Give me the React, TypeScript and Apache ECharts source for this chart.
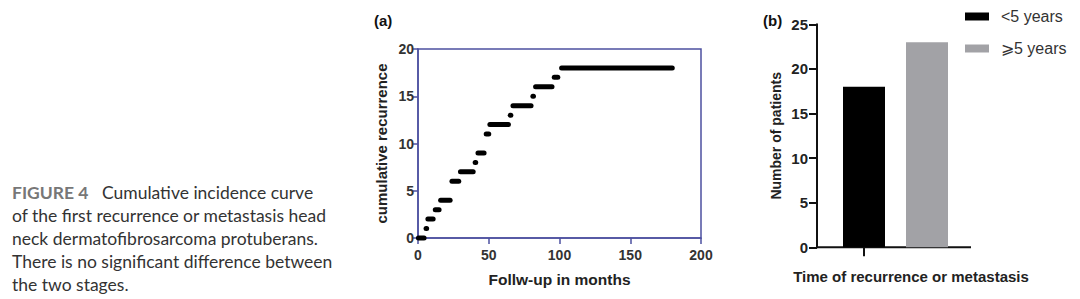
import React, { useEffect, useRef } from "react";
import * as echarts from "echarts";

// (a) cumulative recurrence: each step is a horizontal run of dots
const stepStarts = [0.3, 5.7, 7, 12.2, 16, 24, 30, 40.4, 42.4, 48.2, 50.8, 65.2, 67.1, 81.2, 83.1, 96.3, 101.5];
const stepEnds = [4.3, 6.1, 10.7, 14.9, 22.7, 28.8, 39, 40.8, 46.7, 50, 63.9, 65.6, 79.9, 81.6, 94.7, 98.8, 179.7];
const stepCounts = [0, 1, 2, 3, 4, 6, 7, 8, 9, 11, 12, 13, 14, 15, 16, 17, 18];

// (b) number of patients
const groups = ["<5 years", "⩾5 years"];
const patients = [18, 23];

const captionLines = [
  "Cumulative incidence curve",
  "of the first recurrence or metastasis head",
  "neck dermatofibrosarcoma protuberans.",
  "There is no significant difference between",
  "the two stages.",
];

const FONT = "Liberation Sans";
const BLUE = "#4c50a0";

export default function App() {
  const ref = useRef<HTMLDivElement>(null);
  useEffect(() => {
    if (!ref.current) return;
    const chart = echarts.init(ref.current, undefined, { renderer: "svg" });
    const stepData = stepStarts.map((s, i) => [s, stepEnds[i], stepCounts[i]]);
    chart.setOption({
      animation: false,
      textStyle: { fontFamily: FONT },
      grid: [
        { left: 418, width: 283, top: 49, height: 189, show: true, borderColor: BLUE, borderWidth: 1.5, backgroundColor: "transparent" },
        { left: 832.5, width: 126, top: 24.3, height: 223 },
      ],
      legend: {
        data: groups,
        orient: "vertical",
        left: 965,
        top: 8.5,
        padding: 0,
        itemWidth: 24,
        itemHeight: 8,
        itemGap: 16,
        icon: "rect",
        selectedMode: false,
        textStyle: { fontFamily: FONT, fontSize: 16, color: "#333", padding: [0, 0, 0, 7] },
      },
      xAxis: [
        {
          gridIndex: 0,
          type: "value",
          min: 0,
          max: 200,
          interval: 50,
          axisLine: { show: true, lineStyle: { color: BLUE, width: 1.5 } },
          axisTick: { show: true, length: 6, lineStyle: { color: BLUE, width: 1.5 } },
          axisLabel: { fontFamily: FONT, fontWeight: "bold", fontSize: 14, color: "#333", margin: 10 },
          splitLine: { show: false },
          name: "Follw-up in months",
          nameLocation: "middle",
          nameGap: 33,
          nameTextStyle: { fontFamily: FONT, fontWeight: "bold", fontSize: 15.5, color: "#222" },
        },
        {
          gridIndex: 1,
          type: "category",
          data: groups,
          axisLine: { show: false },
          axisTick: { show: true, alignWithLabel: true, length: 9, lineStyle: { color: "#111", width: 2 } },
          axisLabel: { show: false },
        },
      ],
      yAxis: [
        {
          gridIndex: 0,
          type: "value",
          min: 0,
          max: 20,
          interval: 5,
          axisLine: { show: true, lineStyle: { color: BLUE, width: 1.5 } },
          axisTick: { show: true, length: 5, lineStyle: { color: BLUE, width: 1.5 } },
          axisLabel: { fontFamily: FONT, fontWeight: "bold", fontSize: 14, color: "#333", margin: 4 },
          splitLine: { show: false },
          name: "cumulative recurrence",
          nameLocation: "middle",
          nameGap: 29,
          nameTextStyle: { fontFamily: FONT, fontWeight: "bold", fontSize: 15, color: "#222" },
        },
        {
          gridIndex: 1,
          type: "value",
          min: 0,
          max: 25,
          interval: 5,
          offset: 15.5,
          axisLine: { show: true, lineStyle: { color: "#111", width: 2 } },
          axisTick: { show: true, length: 8, lineStyle: { color: "#111", width: 2 } },
          axisLabel: { fontFamily: FONT, fontWeight: "bold", fontSize: 15, color: "#222", margin: 9 },
          splitLine: { show: false },
          name: "Number of patients",
          nameLocation: "middle",
          nameGap: 34,
          nameTextStyle: { fontFamily: FONT, fontWeight: "bold", fontSize: 14, color: "#222" },
        },
      ],
      series: [
        {
          type: "custom",
          xAxisIndex: 0,
          yAxisIndex: 0,
          data: stepData,
          encode: { x: [0, 1], y: 2 },
          renderItem: (params: any, api: any) => {
            const p1 = api.coord([api.value(0), api.value(2)]);
            const p2 = api.coord([api.value(1), api.value(2)]);
            return {
              type: "line",
              shape: { x1: p1[0], y1: p1[1], x2: p2[0], y2: p2[1] },
              style: { stroke: "#000", lineWidth: 5, lineCap: "round" },
            };
          },
        },
        {
          name: groups[0],
          type: "bar",
          xAxisIndex: 1,
          yAxisIndex: 1,
          data: [patients[0], "-"],
          barWidth: 42,
          barGap: "-100%",
          itemStyle: { color: "#000" },
        },
        {
          name: groups[1],
          type: "bar",
          xAxisIndex: 1,
          yAxisIndex: 1,
          data: ["-", patients[1]],
          barWidth: 42,
          barGap: "-100%",
          itemStyle: { color: "#a2a2a6" },
        },
      ],
      graphic: [
        { type: "line", shape: { x1: 817, y1: 247.3, x2: 971, y2: 247.3 }, style: { stroke: "#111", lineWidth: 2 } },
        { type: "text", x: 374, y: 20, style: { text: "(a)", font: `bold 15px ${FONT}`, fill: "#111", verticalAlign: "middle" } },
        { type: "text", x: 763, y: 20, style: { text: "(b)", font: `bold 15px ${FONT}`, fill: "#111", verticalAlign: "middle" } },
        {
          type: "text",
          x: 911,
          y: 276,
          style: { text: "Time of recurrence or metastasis", font: `bold 15px ${FONT}`, fill: "#222", align: "center", verticalAlign: "middle" },
        },
        {
          type: "text",
          x: 12,
          y: 181,
          style: {
            text: "{fig|FIGURE 4}   " + captionLines.join("\n"),
            fontFamily: "Lato",
            fontSize: 17.5,
            lineHeight: 23,
            fill: "#333",
            verticalAlign: "top",
            rich: {
              fig: { fontFamily: "Lato", fontSize: 17.5, lineHeight: 23, fill: "#777", fontWeight: "bold" },
            },
          },
        },
      ],
    });
    return () => chart.dispose();
  }, []);
  return <div ref={ref} style={{ position: "absolute", left: 0, top: 0, width: 1080, height: 299 }} />;
}
